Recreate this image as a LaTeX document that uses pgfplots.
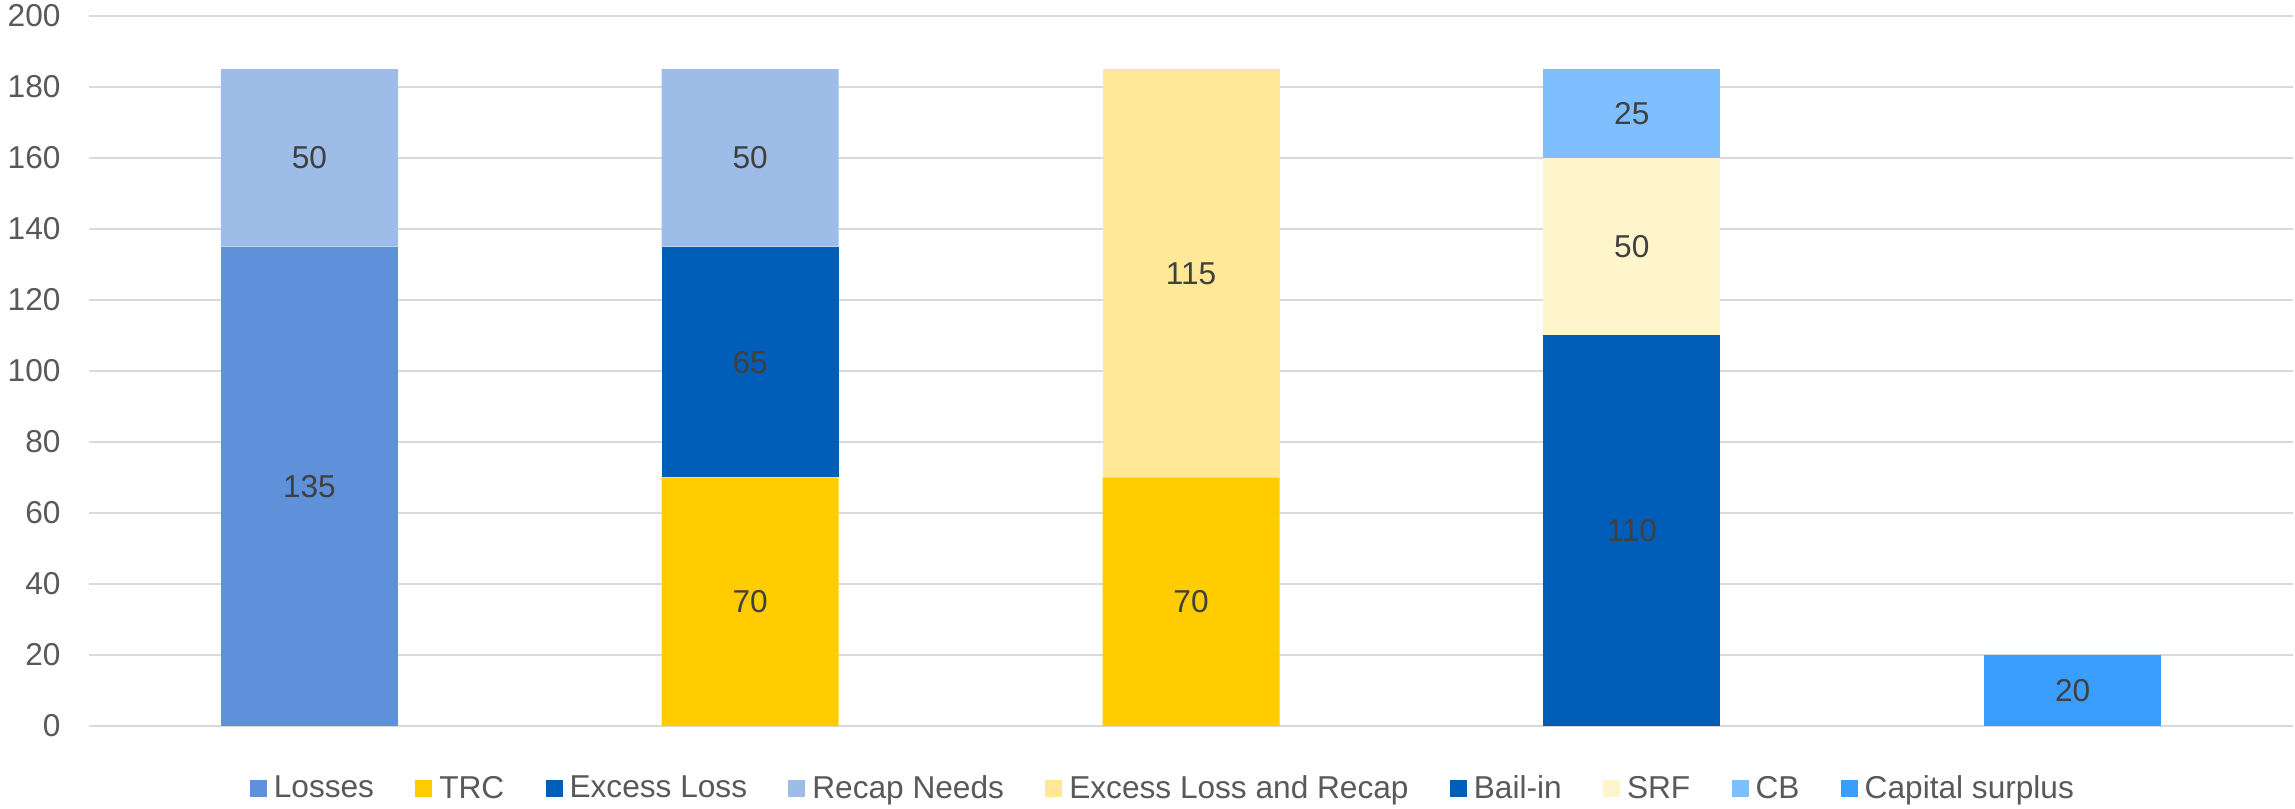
\documentclass[border=0pt]{standalone}
\usepackage{pgfplots}
\pgfplotsset{compat=1.18}
\usepackage{fontspec}
\setmainfont{Liberation Sans}
\definecolor{cLoss}{HTML}{5F91DA}
\definecolor{cTRC}{HTML}{FFCC00}
\definecolor{cExc}{HTML}{005EB8}
\definecolor{cRecap}{HTML}{9DBCE7}
\definecolor{cELR}{HTML}{FFE999}
\definecolor{cBail}{HTML}{005EB8}
\definecolor{cSRF}{HTML}{FFF5CC}
\definecolor{cCB}{HTML}{80BFFF}
\definecolor{cCS}{HTML}{3A9EFF}
\definecolor{gridc}{HTML}{D9D9D9}
\definecolor{tickc}{HTML}{595959}
\definecolor{labc}{HTML}{404040}
\begin{document}
\begin{tikzpicture}[font=\fontsize{12.7}{15}\selectfont]
\begin{axis}[
  scale only axis,
  width=881.6bp, height=284bp,
  at={(0,0)}, anchor=south west,
  ybar stacked, bar width=70.8bp,
  xmin=-0.5, xmax=4.5, ymin=0, ymax=200,
  enlarge x limits=false, enlarge y limits=false,
  xtick=\empty,
  ytick={0,20,...,200},
  ymajorgrids, grid style={gridc, line width=0.55bp},
  axis line style={draw=none},
  major tick length=0pt,
  yticklabel style={text=tickc, inner sep=0pt},
  yticklabel shift={11.2bp},
  /pgf/number format/assume math mode=true,
  point meta=explicit,
  nodes near coords={\pgfmathfloatifflags{\pgfplotspointmeta}{0}{}{\pgfmathprintnumber{\pgfplotspointmeta}}},
  every node near coord/.append style={text=labc, anchor=center},
  legend columns=9,
  legend style={draw=none, at={(0.4868,-0.0887)}, anchor=center,
    nodes={inner sep=0pt, text=tickc},
    /tikz/every odd column/.append style={column sep=2.8bp},
    /tikz/every even column/.append style={column sep=16.5bp}},
  legend image code/.code={\fill[#1] (0bp,-3.4bp) rectangle (6.8bp,3.4bp);},
]
\addplot[fill=cLoss, draw=none]
  coordinates {(0,135)[135] (1,0)[0] (2,0)[0] (3,0)[0] (4,0)[0]};
\addlegendentry{Losses}
\addplot[fill=cTRC, draw=none]
  coordinates {(0,0)[0] (1,70)[70] (2,70)[70] (3,0)[0] (4,0)[0]};
\addlegendentry{TRC}
\addplot[fill=cExc, draw=none]
  coordinates {(0,0)[0] (1,65)[65] (2,0)[0] (3,0)[0] (4,0)[0]};
\addlegendentry{Excess Loss}
\addplot[fill=cRecap, draw=none]
  coordinates {(0,50)[50] (1,50)[50] (2,0)[0] (3,0)[0] (4,0)[0]};
\addlegendentry{Recap Needs}
\addplot[fill=cELR, draw=none]
  coordinates {(0,0)[0] (1,0)[0] (2,115)[115] (3,0)[0] (4,0)[0]};
\addlegendentry{Excess Loss and Recap}
\addplot[fill=cBail, draw=none]
  coordinates {(0,0)[0] (1,0)[0] (2,0)[0] (3,110)[110] (4,0)[0]};
\addlegendentry{Bail-in}
\addplot[fill=cSRF, draw=none]
  coordinates {(0,0)[0] (1,0)[0] (2,0)[0] (3,50)[50] (4,0)[0]};
\addlegendentry{SRF}
\addplot[fill=cCB, draw=none]
  coordinates {(0,0)[0] (1,0)[0] (2,0)[0] (3,25)[25] (4,0)[0]};
\addlegendentry{CB}
\addplot[fill=cCS, draw=none]
  coordinates {(0,0)[0] (1,0)[0] (2,0)[0] (3,0)[0] (4,20)[20]};
\addlegendentry{Capital surplus}
\end{axis}
\path (-35.6bp,-33.2bp) rectangle (882.4bp,290.4bp);
\end{tikzpicture}
\end{document}
